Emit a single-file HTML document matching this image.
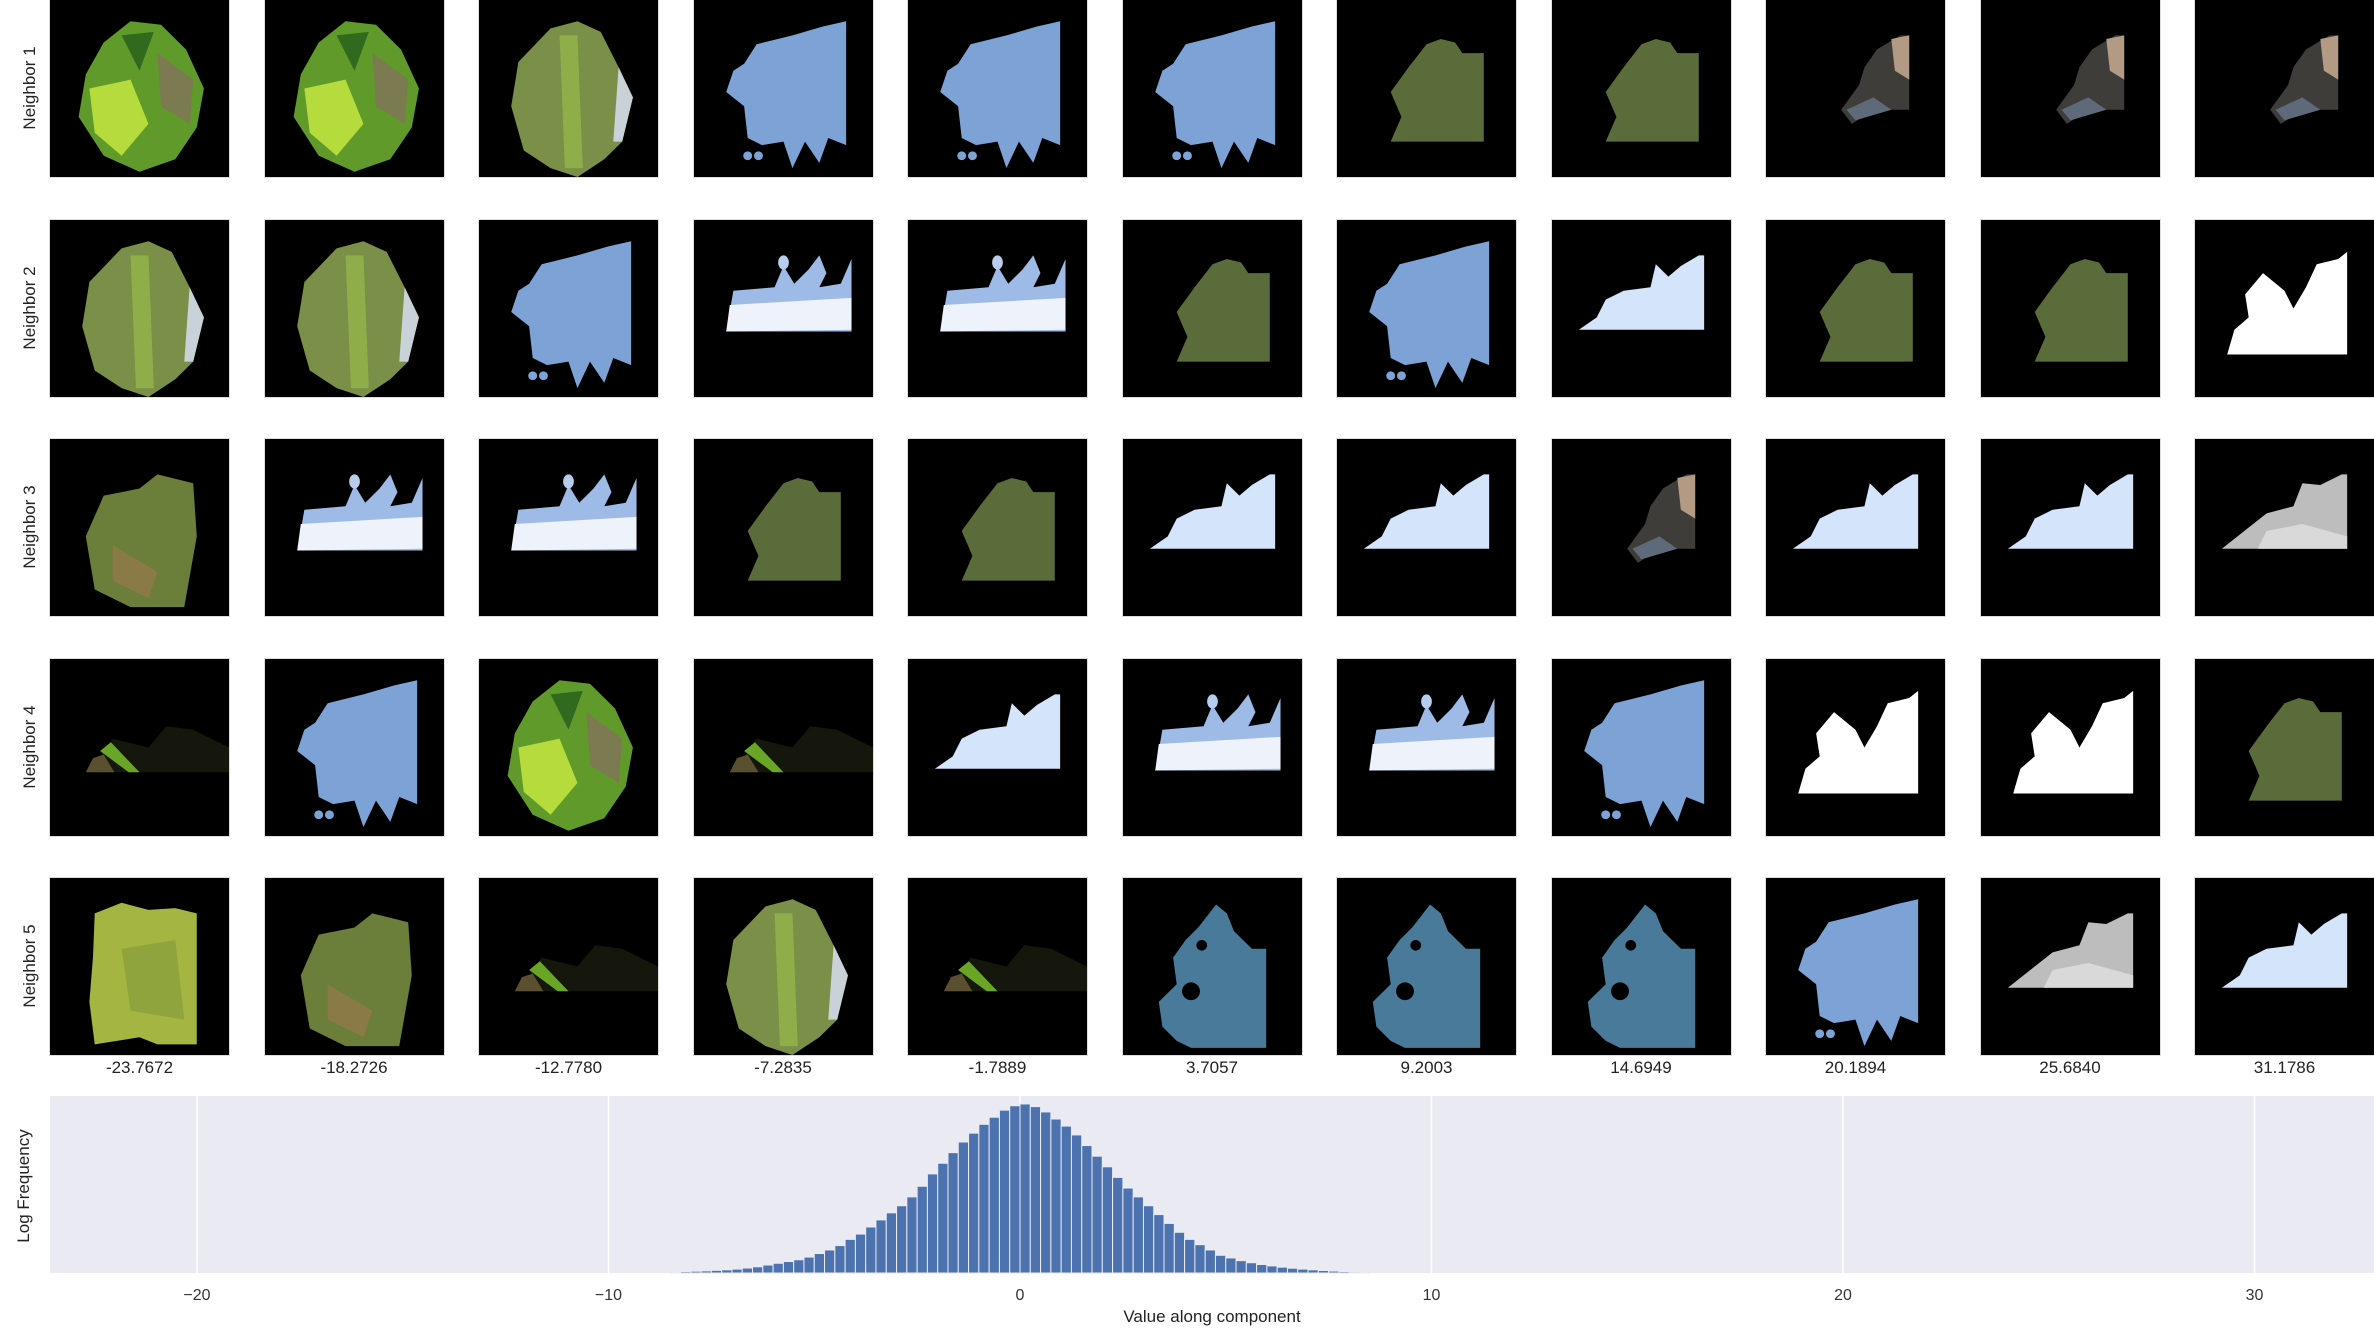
<!DOCTYPE html>
<html><head><meta charset="utf-8">
<style>
html,body{margin:0;padding:0;background:#fff;}
body{width:2374px;height:1344px;position:relative;overflow:hidden;font-family:"Liberation Sans","DejaVu Sans",sans-serif;}
.panel{position:absolute;width:179px;height:177px;background:#000;outline:1px solid #ddd;}
.panel svg{width:100%;height:100%;display:block;}
.rowlab{position:absolute;left:30px;font-size:17px;color:#222;transform:translate(-50%,-50%) rotate(-90deg);white-space:nowrap;}
.collab{position:absolute;top:1058px;width:179px;text-align:center;font-size:17px;color:#222;}
</style></head>
<body>
<div id="grid"></div>
<svg id="hist" width="2374" height="1344" style="position:absolute;left:0;top:0;pointer-events:none"></svg>
<script>
const colValues=["-23.7672","-18.2726","-12.7780","-7.2835","-1.7889","3.7057","9.2003","14.6949","20.1894","25.6840","31.1786"];
const rows=[
["leaf","leaf","grass","sky","sky","sky","olive","olive","rock","rock","rock"],
["grass","grass","sky","cloud","cloud","olive","sky","pale","olive","olive","white"],
["leafB","cloud","cloud","olive","olive","pale","pale","rock","pale","pale","gray"],
["dark","sky","leaf","dark","pale","cloud","cloud","sky","white","white","olive"],
["yg","leafB","dark","grass","dark","teal","teal","teal","sky","gray","pale"]];
const shapes={
leaf:'<path d="M45,12 L62,14 L76,28 L86,50 L82,72 L70,90 L50,97 L30,88 L16,66 L20,42 L30,24 Z" fill="#5f9a2a"/><path d="M22,50 L45,45 L55,70 L40,88 L25,75 Z" fill="#b5dc3c"/><path d="M60,30 L80,45 L78,70 L62,60 Z" fill="#7c7a50"/><path d="M40,20 L58,18 L50,40 Z" fill="#2f6a1e"/>',
grass:'<path d="M40,16 L55,12 L68,18 L78,38 L86,55 L80,80 L70,90 L55,100 L40,95 L25,85 L18,60 L22,35 Z" fill="#7a8f48"/><path d="M45,20 L55,20 L58,95 L48,95 Z" fill="#8fae4a"/><path d="M78,38 L86,55 L80,80 L75,80 Z" fill="#c9d2d8"/>',
leafB:'<path d="M30,32 L50,28 L60,20 L80,25 L82,55 L75,95 L45,95 L25,85 L20,55 Z" fill="#6b7e3a"/><path d="M35,60 L60,75 L55,90 L35,80 Z" fill="#8a7a45"/>',
sky:'<path d="M35,25 L55,20 L72,15 L85,12 L85,82 L75,78 L70,92 L62,80 L55,95 L50,80 L38,82 L30,78 L28,60 L18,52 L22,40 L28,36 Z" fill="#7da2d6"/><circle cx="30" cy="88" r="2.5" fill="#7da2d6"/><circle cx="36" cy="88" r="2.5" fill="#7da2d6"/>',
cloud:'<path d="M22,40 L45,38 L50,26 L56,36 L64,28 L70,20 L74,30 L70,38 L82,36 L88,22 L88,63 L18,63 Z" fill="#9dbbe6"/><path d="M20,48 L88,44 L88,62 L18,63 Z" fill="#eef3fb"/><ellipse cx="50" cy="24" rx="3" ry="4" fill="#b8cdee"/>',
olive:'<path d="M40,38 L50,25 L58,22 L66,24 L70,30 L82,30 L82,80 L30,80 L36,66 L30,52 Z" fill="#5b6c3b"/>',
rock:'<path d="M62,28 L75,20 L80,20 L80,62 L60,62 L48,70 L42,62 L52,48 L55,38 Z" fill="#3f3d3a"/><path d="M70,22 L80,20 L80,45 L72,40 Z" fill="#b39a84"/><path d="M45,62 L60,55 L70,62 L50,68 Z" fill="#5e6a7a"/>',
pale:'<path d="M15,62 L25,55 L30,45 L40,40 L55,38 L58,25 L65,32 L72,26 L82,20 L85,20 L85,62 Z" fill="#d4e4fa"/>',
white:'<path d="M28,42 L38,30 L50,40 L55,50 L62,38 L68,25 L80,22 L85,18 L85,76 L18,76 L22,62 L30,55 Z" fill="#ffffff"/>',
gray:'<path d="M15,62 L30,50 L40,42 L55,38 L60,25 L70,26 L82,20 L85,20 L85,62 Z" fill="#bdbdbd"/><path d="M40,52 L60,48 L85,55 L85,62 L35,62 Z" fill="#d9d9d9"/>',
dark:'<path d="M22,64 L35,45 L55,50 L65,38 L80,40 L100,50 L100,64 Z" fill="#15160c"/><path d="M28,52 L34,47 L50,64 L44,64 Z" fill="#6aa626"/><path d="M20,64 L24,56 L30,54 L36,64 Z" fill="#5a5030"/>',
yg:'<path d="M25,20 L40,14 L55,18 L70,17 L82,20 L82,94 L60,94 L50,90 L25,94 L22,70 L24,45 Z" fill="#a4b542"/><path d="M40,40 L70,35 L75,80 L45,75 Z" fill="#8fa43c"/>',
teal:'<path d="M42,28 L52,15 L58,20 L62,30 L72,40 L80,40 L80,96 L38,96 L30,92 L22,84 L20,70 L30,60 L28,45 L35,35 Z" fill="#4a7a99"/><circle cx="44" cy="38" r="3" fill="#000"/><circle cx="38" cy="64" r="5" fill="#000"/>'
};
const grid=document.getElementById('grid');
const colX=i=>50+i*214.5, rowY=r=>r*219.5;
rows.forEach((row,r)=>{
  const lab=document.createElement('div');
  lab.className='rowlab';
  lab.textContent='Neighbor '+(r+1);
  lab.style.top=(rowY(r)+88)+'px';
  
  
  grid.appendChild(lab);
  row.forEach((t,c)=>{
    const p=document.createElement('div');
    p.className='panel';
    p.style.left=colX(c)+'px';p.style.top=rowY(r)+'px';
    p.innerHTML='<svg viewBox="0 0 100 100" preserveAspectRatio="none">'+shapes[t]+'</svg>';
    
    
    grid.appendChild(p);
  });
});
colValues.forEach((v,c)=>{
  const l=document.createElement('div');
  l.className='collab';l.style.left=colX(c)+'px';l.textContent=v;
  
  
  grid.appendChild(l);
});

// Histogram data
const binStart=-8.5, binWidth=0.25;
const heights=[0.005,0.008,0.01,0.012,0.015,0.018,0.022,0.028,0.035,0.045,0.055,0.065,0.075,0.09,0.11,0.13,0.155,0.19,0.22,0.26,0.3,0.34,0.38,0.43,0.49,0.56,0.62,0.68,0.74,0.79,0.84,0.88,0.92,0.945,0.955,0.94,0.91,0.87,0.83,0.78,0.72,0.66,0.6,0.54,0.48,0.43,0.38,0.33,0.28,0.23,0.19,0.16,0.13,0.1,0.085,0.07,0.058,0.048,0.04,0.033,0.027,0.022,0.018,0.014,0.011,0.008,0.006,0.004];
const xTicks=[-20,-10,0,10,20,30];
const NS='http://www.w3.org/2000/svg';
const svg=document.getElementById('hist');
const L=50,R=2374,T=1096,B=1273;
const xS=v=>1020+41.15*v, yS=h=>B-h*(B-T);
function mk(tag,attrs){const e=document.createElementNS(NS,tag);for(const k in attrs)e.setAttribute(k,attrs[k]);svg.appendChild(e);return e;}
const bg=mk('rect',{x:L,y:T,width:R-L,height:B-T,fill:'#eaeaf2'});


xTicks.forEach(t=>{
  const g=mk('line',{x1:xS(t),x2:xS(t),y1:T,y2:B,stroke:'#fff','stroke-width':1.5});
  
  
  const tl=mk('text',{x:xS(t),y:1300,'text-anchor':'middle','font-size':16,fill:'#333','font-family':'Liberation Sans, sans-serif'});
  tl.textContent=(t<0?'\u2212'+(-t):String(t));
  
  
});
heights.forEach((h,i)=>{
  const x0=xS(binStart+i*binWidth), x1=xS(binStart+(i+1)*binWidth);
  const b=mk('rect',{x:x0,y:yS(h),width:x1-x0,height:B-yS(h),fill:'#4c72b0',stroke:'#eaeaf2','stroke-width':1});
  
  
});
const xl=mk('text',{x:1212,y:1322,'text-anchor':'middle','font-size':17,fill:'#222','font-family':'Liberation Sans, sans-serif'});
xl.textContent='Value along component';


const yl=mk('text',{x:0,y:0,'text-anchor':'middle','font-size':17,fill:'#222','font-family':'Liberation Sans, sans-serif',transform:'translate(29,1186) rotate(-90)'});
yl.textContent='Log Frequency';


</script>
</body></html>
